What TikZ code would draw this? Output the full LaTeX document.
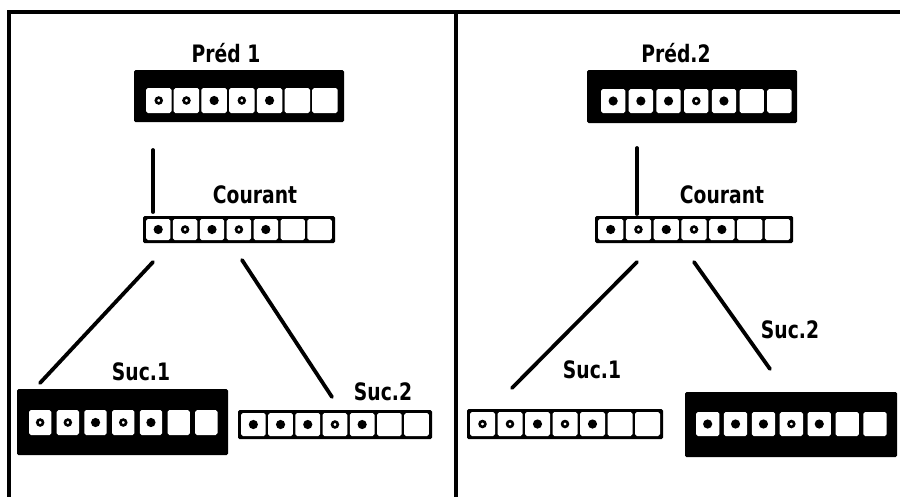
\documentclass[tikz,border=0pt]{standalone}
\usepackage{fontspec}
\setmainfont{DejaVu Sans}
\newcommand{\lab}[1]{\scalebox{0.78}[1]{#1}}
% dot radii for the three slot kinds
\def\radf{4.6}
\def\rado{2.9}
\def\radn{1}
% a row of seven slots: x0, top, pitch, width, height, pattern (f filled, o ring, n empty)
\newcommand{\slots}[6]{%
  \foreach \k [count=\i from 0] in {#6} {
    \path[slot] ({#1+\i*#3},#2) rectangle ++(#4,#5);
    \path[dot\k] ({#1+\i*#3+#4/2},{#2+#5/2}) circle[radius=\csname rad\k\endcsname pt];
  }}
\begin{document}
\begin{tikzpicture}[x=1pt,y=-1pt,
  frame/.style={line width=4.5pt, line cap=rect},
  link/.style={line width=3.8pt, line cap=round},
  plate/.style={fill=black, draw=none, inner sep=0pt, rounded corners=1.5pt},
  slot/.style={fill=white, rounded corners=1.8pt},
  dotf/.style={fill=black},
  doto/.style={draw=black, line width=2.6pt},
  dotn/.style={},
  lbl/.style={font=\bfseries\fontsize{24}{24}\selectfont, inner sep=0pt, anchor=base}]
\useasboundingbox (0,0) rectangle (900,496);
\fill[white] (0,0) rectangle (900,496);

% outer frame and divider
\draw[frame] (9,496) -- (9,12) -- (900,12);
\draw[frame] (456,12) -- (456,496);

% ---- left panel ----
\node[plate, minimum width=210pt, minimum height=52pt] (predA) at (239,96) {};
\slots{146}{88}{27.7}{25.5}{25}{o,o,f,o,f,n,n}
\node[plate, minimum width=192pt, minimum height=27pt] (curA) at (239,229.5) {};
\slots{146}{219}{26.9}{24.4}{21}{f,o,f,o,f,n,n}
\node[plate, minimum width=211pt, minimum height=66pt] (sucA1) at (122.5,422) {};
\slots{29}{410}{27.7}{22.3}{25}{o,o,f,o,f,n,n}
\node[plate, minimum width=194pt, minimum height=29pt] (sucA2) at (335,424.5) {};
\slots{241}{413}{27.2}{24.7}{23}{f,f,f,o,f,n,n}

\node[lbl] (tPredA) at (226,62) {\lab{Préd 1}};
\node[lbl] (tCurA) at (255,203) {\lab{Courant}};
\node[lbl] (tSucA1) at (141,380) {\lab{Suc.1}};
\node[lbl] (tSucA2) at (383,400) {\lab{Suc.2}};

\coordinate (a1) at (153,150); \coordinate (a2) at (153,212);
\coordinate (a3) at (153,262); \coordinate (a4) at (40,383);
\coordinate (a5) at (242,260); \coordinate (a6) at (332,397);
\draw[link] (a1) -- (a2);
\draw[link] (a3) -- (a4);
\draw[link] (a5) -- (a6);

% ---- right panel ----
\node[plate, minimum width=210pt, minimum height=53pt] (predB) at (692,96.5) {};
\slots{601}{89}{27.7}{24.3}{24}{f,f,f,o,f,n,n}
\node[plate, minimum width=198pt, minimum height=27pt] (curB) at (694,229.5) {};
\slots{598}{219}{27.8}{25.3}{21}{f,o,f,o,f,n,n}
\node[plate, minimum width=196pt, minimum height=30pt] (sucB1) at (565,424) {};
\slots{470}{412}{27.5}{25}{24}{o,o,f,o,f,n,n}
\node[plate, minimum width=212pt, minimum height=65pt] (sucB2) at (791,424.5) {};
\slots{696}{412}{27.9}{23.3}{24}{f,f,f,o,f,n,n}

\node[lbl] (tPredB) at (676,62) {\lab{Préd.2}};
\node[lbl] (tCurB) at (722,203) {\lab{Courant}};
\node[lbl] (tSucB1) at (592,378) {\lab{Suc.1}};
\node[lbl] (tSucB2) at (790,338) {\lab{Suc.2}};

\coordinate (b1) at (637,148); \coordinate (b2) at (637,214);
\coordinate (b3) at (637,262); \coordinate (b4) at (512,388);
\coordinate (b5) at (694,262); \coordinate (b6) at (770,369);
\draw[link] (b1) -- (b2);
\draw[link] (b3) -- (b4);
\draw[link] (b5) -- (b6);
\end{tikzpicture}
\end{document}
